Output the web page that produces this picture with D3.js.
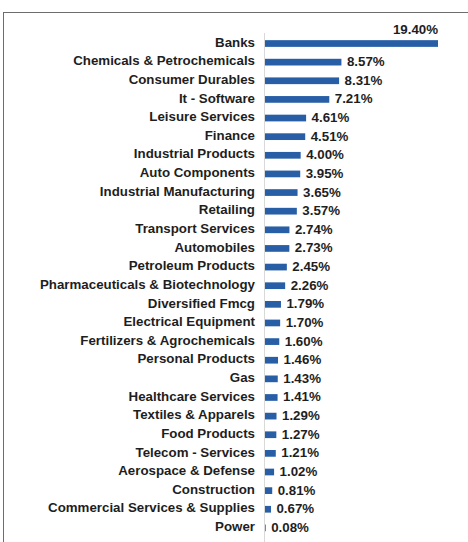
<!DOCTYPE html>
<html>
<head>
<meta charset="utf-8">
<script src="https://cdn.jsdelivr.net/npm/d3@7/dist/d3.min.js"></script>
<style>
  html, body { margin: 0; padding: 0; background: #fff; }
  svg { display: block; }
  text { font-family: "Liberation Sans", Arial, sans-serif; font-weight: bold; fill: #1e1e1e; }
</style>
</head>
<body>
<svg id="chart" width="468" height="542"></svg>
<script>
// Sector allocation (% of net assets)
const sectors = [
  "Banks", "Chemicals & Petrochemicals", "Consumer Durables", "It - Software",
  "Leisure Services", "Finance", "Industrial Products", "Auto Components",
  "Industrial Manufacturing", "Retailing", "Transport Services", "Automobiles",
  "Petroleum Products", "Pharmaceuticals & Biotechnology", "Diversified Fmcg",
  "Electrical Equipment", "Fertilizers & Agrochemicals", "Personal Products",
  "Gas", "Healthcare Services", "Textiles & Apparels", "Food Products",
  "Telecom - Services", "Aerospace & Defense", "Construction",
  "Commercial Services & Supplies", "Power"
];
const weights = [
  19.40, 8.57, 8.31, 7.21, 4.61, 4.51, 4.00, 3.95, 3.65, 3.57, 2.74, 2.73,
  2.45, 2.26, 1.79, 1.70, 1.60, 1.46, 1.43, 1.41, 1.29, 1.27, 1.21, 1.02,
  0.81, 0.67, 0.08
];
const data = sectors.map((s, i) => ({ sector: s, value: weights[i] }));

const svg = d3.select("#chart");
const fontSize = 13.3;

// frame around the chart area
svg.append("rect")
  .attr("x", 3.5).attr("y", 12.5)
  .attr("width", 480).attr("height", 540)
  .attr("fill", "none")
  .attr("stroke", "#6d6d6d")
  .attr("stroke-width", 1);

const x0 = 265;
const x = d3.scaleLinear().domain([0, 19.40]).range([x0, 438]);
const y = d3.scaleBand()
  .domain(sectors)
  .range([34.2, 537.2])
  .paddingInner(0.64)
  .paddingOuter(0.32);

// category axis line
svg.append("line")
  .attr("x1", 264.5).attr("x2", 264.5)
  .attr("y1", 33).attr("y2", 542)
  .attr("stroke", "#d9d9d9")
  .attr("stroke-width", 1);

// bars
svg.append("g").selectAll("rect")
  .data(data)
  .join("rect")
  .attr("x", x0)
  .attr("y", d => y(d.sector))
  .attr("width", d => Math.max(0.6, x(d.value) - x0))
  .attr("height", y.bandwidth())
  .attr("fill", "#285ea6");

// category labels
svg.append("g").selectAll("text")
  .data(data)
  .join("text")
  .attr("x", 255)
  .attr("y", d => y(d.sector) + y.bandwidth() / 2 + 3.2)
  .attr("text-anchor", "end")
  .attr("font-size", fontSize)
  .text(d => d.sector);

// value labels
svg.append("g").selectAll("text")
  .data(data)
  .join("text")
  .attr("x", (d, i) => i === 0 ? x(d.value) : x(d.value) + 5.5)
  .attr("y", (d, i) => i === 0
        ? y(d.sector) - 6.5
        : y(d.sector) + y.bandwidth() / 2 + 4)
  .attr("text-anchor", (d, i) => i === 0 ? "end" : "start")
  .attr("font-size", fontSize)
  .text(d => d.value.toFixed(2) + "%");
</script>
</body>
</html>
